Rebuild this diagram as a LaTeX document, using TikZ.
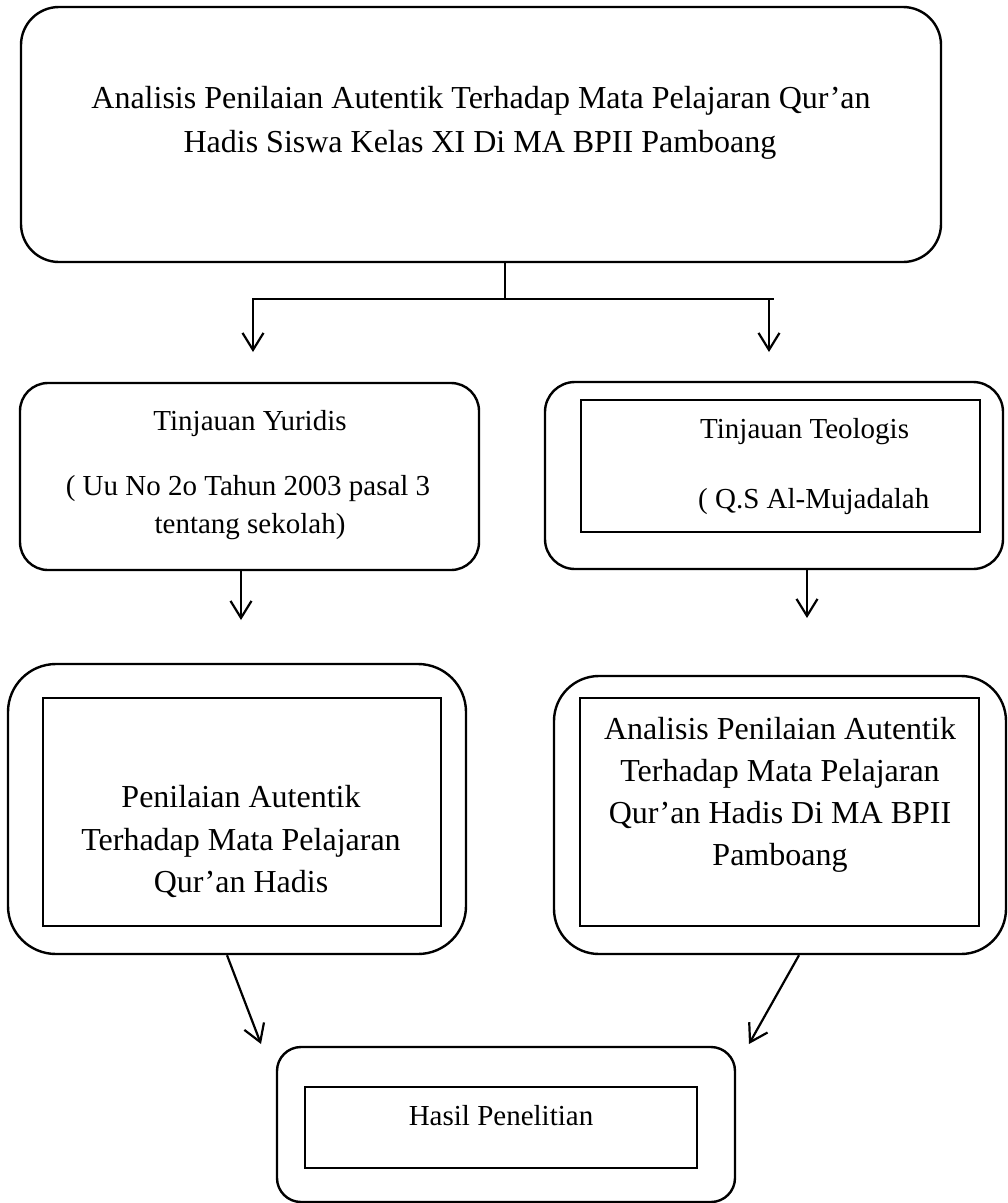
\documentclass[tikz,border=0pt]{standalone}
\usepackage{fontspec}
\setmainfont{Liberation Serif}
\usetikzlibrary{arrows.meta}

\begin{document}
\begin{tikzpicture}[x=1pt, y=-1pt,
  kotak/.style={draw, line width=2.4pt, rounded corners=#1, inner sep=0pt},
  dalam/.style={draw, line width=1.6pt, inner sep=0pt},
  teks/.style={anchor=base, inner sep=0pt, font=\fontsize{32}{38}\selectfont},
  teksk/.style={anchor=base, inner sep=0pt, font=\fontsize{29}{35}\selectfont},
  garis/.style={line width=2.2pt},
  panah/.style={-{Straight Barb[length=17pt, width=21pt]}, line width=2.2pt}]
\useasboundingbox (0,0) rectangle (1008,1203);

% judul
\node [kotak=38pt, minimum width=920pt, minimum height=255pt] (judul) at (481, 134.5) {};
\node [teks] (judulA) at (481, 108) {Analisis Penilaian Autentik Terhadap Mata Pelajaran Qur’an};
\node [teks] (judulB) at (480, 152) {Hadis Siswa Kelas XI Di MA BPII Pamboang};

\coordinate (cabang) at (505, 299);
\coordinate (kiri) at (252, 299);
\coordinate (kanan) at (774, 299);
\coordinate (ujungA) at (253, 352);
\coordinate (ujungB) at (769, 352);
\draw [garis] (cabang |- judul.south) -- (cabang);
\draw [garis] (kiri) -- (kanan);
\draw [panah] (ujungA |- kiri) -- (ujungA);
\draw [panah] (ujungB |- kanan) -- (ujungB);

% tinjauan
\node [kotak=28pt, minimum width=459pt, minimum height=187pt] (yuridis) at (249.5, 476.5) {};
\node [teksk] (yuridisA) at (250, 430) {Tinjauan Yuridis};
\node [teksk] (yuridisB) at (248, 495) {( Uu No 2o Tahun 2003 pasal 3};
\node [teksk] (yuridisC) at (250, 533) {tentang sekolah)};

\node [kotak=30pt, minimum width=458pt, minimum height=187pt] (teologis) at (774, 475.5) {};
\node [dalam, minimum width=399pt, minimum height=132pt] (teologisIsi) at (780.5, 466) {};
\node [teksk, anchor=base west] (teologisA) at (700, 438) {Tinjauan Teologis};
\node [teksk, anchor=base west] (teologisB) at (698, 508) {( Q.S Al-Mujadalah};

\coordinate (ujungC) at (241, 620);
\coordinate (ujungD) at (807, 618);
\draw [panah] (yuridis.south -| ujungC) -- (ujungC);
\draw [panah] (teologis.south -| ujungD) -- (ujungD);

% penilaian
\node [kotak=48pt, minimum width=458pt, minimum height=290pt] (penilaian) at (237, 809) {};
\node [dalam, minimum width=398pt, minimum height=228pt] (penilaianIsi) at (242, 812) {};
\node [teks] (penilaianA) at (241, 807) {Penilaian Autentik};
\node [teks] (penilaianB) at (241, 850) {Terhadap Mata Pelajaran};
\node [teks] (penilaianC) at (241, 892) {Qur’an Hadis};

\node [kotak=45pt, minimum width=452pt, minimum height=278pt] (analisis) at (780, 815) {};
\node [dalam, minimum width=399pt, minimum height=228pt] (analisisIsi) at (779.5, 812) {};
\node [teks] (analisisA) at (780, 739) {Analisis Penilaian Autentik};
\node [teks] (analisisB) at (780, 781) {Terhadap Mata Pelajaran};
\node [teks] (analisisC) at (780, 823) {Qur’an Hadis Di MA BPII};
\node [teks] (analisisD) at (780, 865) {Pamboang};

\coordinate (ujungE) at (261, 1044);
\coordinate (ujungF) at (749, 1044);
\draw [panah] ([xshift=-10pt]penilaian.south) -- (ujungE);
\draw [panah] ([xshift=19pt]analisis.south) -- (ujungF);

% hasil
\node [kotak=24pt, minimum width=458pt, minimum height=155pt] (hasil) at (506, 1124.5) {};
\node [dalam, minimum width=392pt, minimum height=81pt] (hasilIsi) at (501, 1127.5) {};
\node [teksk] (hasilA) at (501, 1125) {Hasil Penelitian};
\end{tikzpicture}
\end{document}
